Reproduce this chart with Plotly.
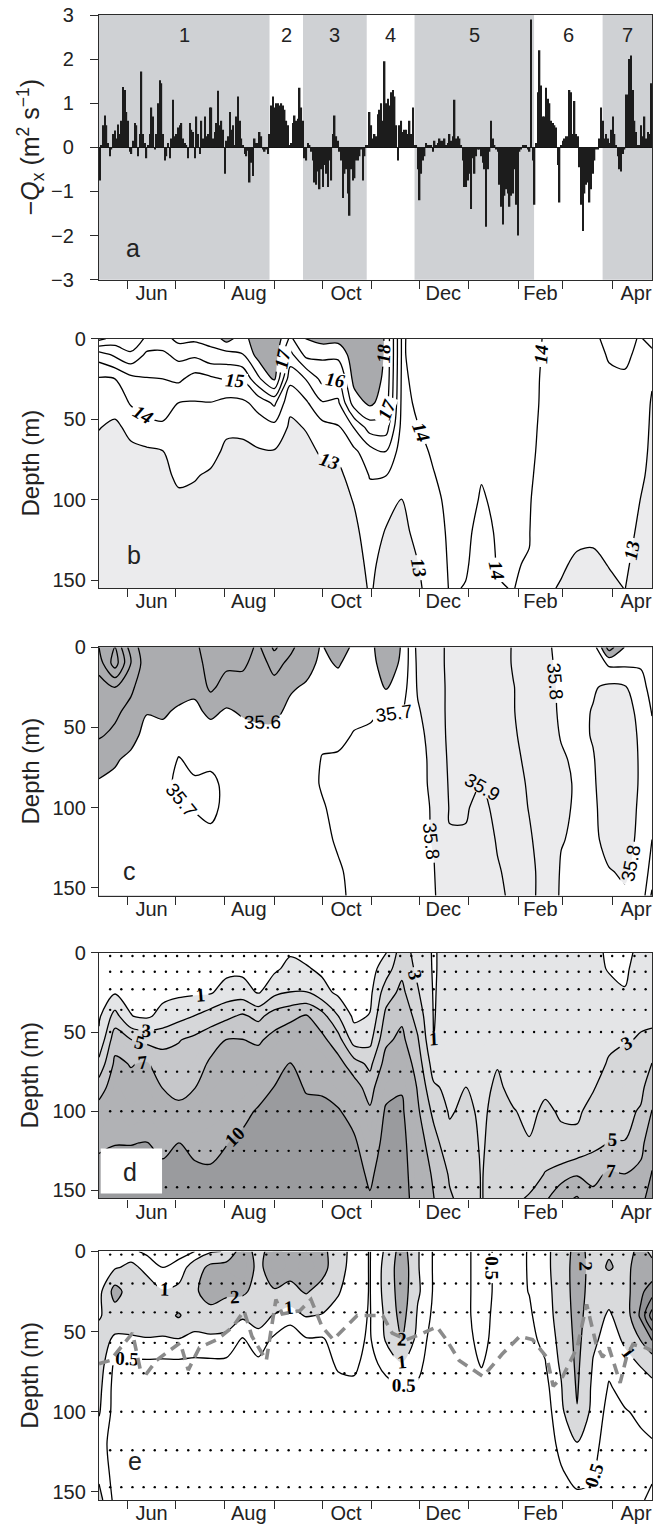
import numpy as np
import pandas as pd
import plotly.graph_objects as go

SANS = "Liberation Sans, Arial, sans-serif"
SERIF = "Liberation Serif, Times New Roman, serif"
AXC = "#2b2b2b"

# ---------------- panel a : daily -Qx (m2 s-1) ----------------
qx_first, qx_last = "2006-05-14 12:00", "2007-04-25 12:00"
qx = [
    -0.75, 0.05, 0.5, 0.72, 0.5, 0.1, -0.2, -0.05, 0.3, 0.38, 0.2, 0.52, 0.3, 0.6,
    1.37, 1.3, 0.8, 0.6, -0.1, -0.15, 0.15, 0.55, 0.5, -0.2, 0.3, 1.72, 0.3, 0.1,
    -0.25, 0.05, 0.3, 0.9, 0.7, -0.05, 0.3, 1.0, 1.52, 1.45, 0.3, -0.3, -0.2, 0.1,
    -0.25, 0.2, 1.08, 0.25, 0.3, 0.45, 0.5, 0.55, 0.2, 0.1, 0.05, -0.25, 0.55, 0.4,
    0.35, -0.25, 0.7, 0.3, -0.15, 0.6, 0.2, 0.7, 0.25, 0.3, 0.9, 0.9, 0.2, 0.35,
    0.55, 1.28, 0.5, 0.6, 0.4, -0.6, 0.15, 0.25, 0.8, 0.4, 0.5, 0.05, 0.7, 1.15,
    0.6, 0.2, 0.05, -0.15, -0.2, -0.08, -0.8, -0.35, -0.65, 0.2, 0.1, 0.1, 0.35, 0.25,
    -0.05, -0.1, -0.05, -0.15, 0.3, 0.95, 1.15, 0.9, 1.0, 1.0, 0.95, 1.0, 0.95, 0.85,
    0.6, 0.5, 0.05, 0.1, 0.55, 0.72, 0.6, 0.65, 1.35, 0.9, 0.6, -0.25, -0.3, 0.1,
    0.05, -0.1, -0.3, -0.8, -0.85, -0.55,
    -0.95, -0.5, -0.9, -0.4, -0.6, -0.9, -0.3, -0.75, 0.3, 0.72, 0.25, 0.15, -0.1, -0.3,
    -1.15, -0.6, -0.5, -1.05, -1.55, -0.5, -0.75, -0.7, -0.3, -0.3, -0.2, -0.05, -0.75, -0.2,
    0.05, 0.05, 0.8, 0.5, 0.2, 0.3, 0.25, 0.75, 0.85, 1.0, 0.6, 1.95, 1.0, 1.1,
    0.95, 1.25, 1.3, 1.15, 0.5, -0.3, 0.5, 0.6, 0.35, 0.4, 0.4, 0.3, 0.6, 0.3,
    0.9, 0.05, 0.05, -0.5, -1.2, -0.6, -0.3, -0.2, 0.1, 0.05, 0.05, 0.05, -0.1, 0.15,
    0.05, 0.1, 0.2, 0.15, 0.15, 0.2, 0.05, 0.1, 0.3, 0.15, 0.25, 1.08, 0.2, 0.25,
    0.2, 0.05, -0.3, -0.9, -0.9, -0.75, -0.6, -1.4, -0.25, -0.6, -0.2, -0.05, -0.05, -0.2,
    -0.35, -0.5, -1.8, -0.5, -0.1, 0.6, 0.2, 0.05, -0.05, -0.1, -0.85, -1.35, -1.75, -1.1,
    -0.95, -1.05, -1.35, -1.1, -1.05, -0.5, -1.3, -2.0, -0.1, -0.05, 0.05, 0.05, 0.05, -0.05,
    -0.1, 2.9, -0.3, -1.3, 0.1, 1.25, 2.2, 1.4, 0.7, 0.7, 1.35, 1.1, 1.0, 0.6,
    0.55, 0.5, 0.45, -0.4, -1.25, 0.05, 0.15, 0.2, 0.25, 0.25, 1.3, 1.25, 0.3, 1.05,
    0.3, 0.25, -0.45, -1.3, -1.9, -1.05, -0.85, -0.8, -1.25, -0.95, -0.6, -0.3, -0.05, -0.05,
    0.2, 0.9, 0.6, 0.2, 0.3, 0.2, 0.1, 0.4, 0.7, 0.3, 0.05, -0.2, -0.5, -0.55,
    -0.15, -0.05, 1.2, 1.2, 2.0, 2.08, 1.3, 0.6, 0.35, 0.05, 0.05, 0.5, 0.25, 0.7,
    0.2, 0.35, 0.3, 1.45,
]

# wind periods: (label, start, end, shaded)
periods = [
    ("1", "2006-05-14", "2006-08-29", True),
    ("2", "2006-08-29", "2006-09-19", False),
    ("3", "2006-09-19", "2006-10-29", True),
    ("4", "2006-10-29", "2006-11-28", False),
    ("5", "2006-11-28", "2007-02-11", True),
    ("6", "2007-02-11", "2007-03-26", False),
    ("7", "2007-03-26", "2007-04-26", True),
]

# ---------------- section grids (time nodes x depth) ----------------
node_dates = [
    "2006-05-14", "2006-05-24", "2006-06-03", "2006-06-13", "2006-06-23", "2006-07-03",
    "2006-07-13", "2006-07-23", "2006-08-02", "2006-08-12", "2006-08-22", "2006-09-01",
    "2006-09-11", "2006-09-21", "2006-10-01", "2006-10-11", "2006-10-21", "2006-10-31",
    "2006-11-10", "2006-11-20", "2006-11-30", "2006-12-10", "2006-12-20", "2006-12-30",
    "2007-01-09", "2007-01-19", "2007-01-29", "2007-02-08", "2007-02-18", "2007-02-28",
    "2007-03-10", "2007-03-20", "2007-03-30", "2007-04-09", "2007-04-19", "2007-04-26",
]
depths = [0, 10, 25, 40, 55, 70, 85, 100, 120, 140, 155]

# temperature (deg C), one profile per time node
temperature = [
    [18.3, 15.5, 13.9, 13.5, 13.03, 12.8, 12.7, 12.6, 12.5, 12.5, 12.5],
    [17.6, 16.2, 14.0, 13.3, 12.85, 12.7, 12.6, 12.55, 12.5, 12.5, 12.5],
    [17.8, 16.8, 14.7, 14.1, 13.2, 12.85, 12.7, 12.6, 12.5, 12.5, 12.5],
    [16.8, 15.8, 14.95, 14.4, 13.7, 12.85, 12.7, 12.6, 12.5, 12.5, 12.5],
    [16.6, 15.8, 15.0, 14.45, 13.85, 12.98, 12.8, 12.65, 12.5, 12.5, 12.5],
    [17.3, 16.3, 15.2, 13.98, 13.7, 13.45, 13.15, 12.85, 12.7, 12.6, 12.5],
    [17.2, 16.2, 14.6, 13.95, 13.65, 13.35, 13.05, 12.85, 12.7, 12.6, 12.5],
    [17.3, 16.7, 14.8, 13.97, 13.6, 13.25, 12.9, 12.75, 12.6, 12.55, 12.5],
    [18.4, 16.6, 15.1, 13.7, 13.15, 12.85, 12.7, 12.6, 12.5, 12.5, 12.5],
    [17.5, 16.95, 15.1, 13.8, 13.15, 12.85, 12.7, 12.6, 12.5, 12.5, 12.5],
    [18.8, 18.4, 16.8, 14.3, 13.6, 12.9, 12.7, 12.6, 12.5, 12.5, 12.5],
    [18.9, 18.6, 18.2, 15.2, 13.7, 12.95, 12.75, 12.6, 12.5, 12.5, 12.5],
    [16.8, 15.7, 14.3, 13.2, 12.85, 12.7, 12.6, 12.55, 12.5, 12.5, 12.5],
    [18.05, 17.3, 15.05, 13.85, 13.05, 12.8, 12.7, 12.6, 12.5, 12.5, 12.5],
    [18.4, 17.2, 16.3, 14.9, 13.65, 13.1, 12.8, 12.65, 12.55, 12.5, 12.5],
    [18.3, 17.3, 15.9, 14.8, 13.9, 13.2, 12.8, 12.65, 12.55, 12.5, 12.5],
    [18.6, 18.5, 18.3, 17.5, 15.05, 13.8, 13.35, 13.05, 12.8, 12.65, 12.5],
    [18.7, 18.6, 18.5, 18.2, 16.5, 14.6, 14.05, 13.7, 13.4, 13.2, 13.1],
    [17.9, 17.9, 17.8, 17.5, 16.5, 15.0, 14.02, 13.3, 12.95, 12.7, 12.6],
    [13.9, 13.9, 13.85, 13.8, 13.7, 13.5, 13.25, 12.98, 12.8, 12.7, 12.6],
    [14.3, 14.3, 14.2, 14.1, 13.98, 13.8, 13.6, 13.4, 13.2, 12.98, 12.85],
    [14.4, 14.4, 14.35, 14.3, 14.2, 14.1, 13.97, 13.8, 13.6, 13.45, 13.4],
    [14.5, 14.5, 14.45, 14.4, 14.35, 14.3, 14.25, 14.2, 14.15, 14.1, 14.05],
    [14.5, 14.5, 14.45, 14.4, 14.35, 14.3, 14.25, 14.2, 14.1, 14.05, 13.98],
    [14.4, 14.4, 14.35, 14.3, 14.25, 14.15, 14.03, 13.95, 13.85, 13.8, 13.75],
    [14.4, 14.4, 14.35, 14.3, 14.25, 14.2, 14.15, 14.1, 14.05, 14.02, 13.98],
    [14.3, 14.3, 14.28, 14.25, 14.2, 14.15, 14.1, 14.07, 14.04, 14.02, 14.01],
    [14.2, 14.2, 14.18, 14.15, 14.12, 14.1, 14.07, 14.04, 14.02, 13.98, 13.9],
    [13.95, 13.93, 13.9, 13.9, 13.88, 13.85, 13.8, 13.7, 13.5, 13.25, 13.1],
    [13.9, 13.88, 13.85, 13.8, 13.75, 13.7, 13.6, 13.45, 13.25, 13.08, 12.95],
    [13.9, 13.85, 13.8, 13.75, 13.7, 13.6, 13.5, 13.35, 13.15, 12.9, 12.8],
    [13.85, 13.8, 13.75, 13.7, 13.6, 13.5, 13.4, 13.3, 13.1, 12.9, 12.8],
    [14.2, 14.05, 13.9, 13.8, 13.7, 13.6, 13.5, 13.4, 13.2, 13.02, 12.9],
    [14.3, 14.15, 13.9, 13.8, 13.7, 13.6, 13.5, 13.4, 13.25, 13.1, 13.01],
    [13.9, 13.8, 13.7, 13.55, 13.4, 13.3, 13.15, 12.98, 12.85, 12.75, 12.7],
    [14.6, 13.6, 13.1, 12.9, 12.85, 12.8, 12.75, 12.7, 12.65, 12.6, 12.6],
]

# salinity
salinity = [
    [35.3, 35.35, 35.45, 35.47, 35.49, 35.56, 35.61, 35.63, 35.65, 35.66, 35.66],
    [35.2, 35.15, 35.4, 35.48, 35.52, 35.59, 35.62, 35.64, 35.65, 35.66, 35.66],
    [35.45, 35.4, 35.48, 35.53, 35.57, 35.62, 35.64, 35.65, 35.66, 35.66, 35.67],
    [35.56, 35.56, 35.57, 35.595, 35.63, 35.65, 35.66, 35.66, 35.67, 35.67, 35.67],
    [35.56, 35.56, 35.57, 35.59, 35.62, 35.65, 35.67, 35.67, 35.67, 35.67, 35.67],
    [35.56, 35.56, 35.57, 35.61, 35.66, 35.705, 35.72, 35.69, 35.66, 35.65, 35.65],
    [35.52, 35.54, 35.58, 35.62, 35.65, 35.68, 35.71, 35.705, 35.67, 35.65, 35.65],
    [35.45, 35.46, 35.48, 35.58, 35.64, 35.68, 35.72, 35.72, 35.68, 35.66, 35.65],
    [35.45, 35.48, 35.54, 35.61, 35.64, 35.67, 35.68, 35.68, 35.67, 35.66, 35.65],
    [35.45, 35.48, 35.54, 35.59, 35.63, 35.65, 35.66, 35.66, 35.66, 35.66, 35.66],
    [35.52, 35.54, 35.56, 35.58, 35.62, 35.64, 35.65, 35.66, 35.66, 35.66, 35.66],
    [35.38, 35.47, 35.53, 35.58, 35.62, 35.64, 35.65, 35.66, 35.66, 35.66, 35.66],
    [35.48, 35.52, 35.59, 35.62, 35.64, 35.65, 35.66, 35.66, 35.66, 35.66, 35.66],
    [35.55, 35.57, 35.61, 35.63, 35.64, 35.65, 35.66, 35.66, 35.66, 35.66, 35.66],
    [35.61, 35.62, 35.63, 35.65, 35.68, 35.705, 35.71, 35.69, 35.68, 35.67, 35.67],
    [35.52, 35.59, 35.64, 35.66, 35.68, 35.71, 35.73, 35.73, 35.71, 35.69, 35.68],
    [35.63, 35.64, 35.66, 35.68, 35.705, 35.72, 35.74, 35.74, 35.73, 35.72, 35.72],
    [35.64, 35.65, 35.67, 35.69, 35.71, 35.73, 35.75, 35.75, 35.75, 35.74, 35.74],
    [35.5, 35.53, 35.59, 35.705, 35.72, 35.74, 35.76, 35.76, 35.77, 35.77, 35.77],
    [35.61, 35.62, 35.65, 35.69, 35.72, 35.74, 35.76, 35.77, 35.78, 35.78, 35.78],
    [35.83, 35.82, 35.81, 35.79, 35.77, 35.76, 35.77, 35.77, 35.78, 35.78, 35.78],
    [35.86, 35.86, 35.85, 35.85, 35.84, 35.83, 35.82, 35.81, 35.805, 35.795, 35.79],
    [35.92, 35.92, 35.92, 35.92, 35.92, 35.915, 35.91, 35.905, 35.895, 35.88, 35.87],
    [35.93, 35.93, 35.93, 35.93, 35.925, 35.92, 35.915, 35.905, 35.895, 35.88, 35.87],
    [35.93, 35.93, 35.93, 35.93, 35.92, 35.91, 35.898, 35.885, 35.87, 35.86, 35.86],
    [35.93, 35.93, 35.93, 35.93, 35.93, 35.925, 35.92, 35.915, 35.905, 35.895, 35.89],
    [35.895, 35.895, 35.902, 35.902, 35.905, 35.91, 35.915, 35.92, 35.92, 35.915, 35.91],
    [35.87, 35.87, 35.875, 35.88, 35.885, 35.89, 35.895, 35.898, 35.905, 35.91, 35.91],
    [35.82, 35.83, 35.84, 35.84, 35.84, 35.85, 35.86, 35.87, 35.88, 35.885, 35.885],
    [35.77, 35.77, 35.78, 35.785, 35.795, 35.81, 35.82, 35.815, 35.805, 35.79, 35.785],
    [35.76, 35.76, 35.77, 35.775, 35.78, 35.785, 35.79, 35.79, 35.785, 35.78, 35.775],
    [35.76, 35.78, 35.79, 35.805, 35.805, 35.795, 35.79, 35.785, 35.78, 35.775, 35.77],
    [35.45, 35.68, 35.82, 35.84, 35.845, 35.845, 35.845, 35.84, 35.83, 35.795, 35.78],
    [35.605, 35.68, 35.81, 35.84, 35.845, 35.845, 35.845, 35.84, 35.83, 35.81, 35.79],
    [35.66, 35.69, 35.73, 35.77, 35.785, 35.79, 35.79, 35.785, 35.78, 35.775, 35.77],
    [35.62, 35.64, 35.67, 35.695, 35.72, 35.73, 35.73, 35.72, 35.7, 35.66, 35.58],
]

# nitrate (uM)
nitrate = [
    [0.2, 0.25, 0.4, 0.7, 1.4, 3.6, 6.0, 7.9, 9.6, 10.8, 11.3],
    [0.2, 0.35, 0.8, 3.75, 6.2, 7.4, 8.2, 8.9, 9.95, 10.6, 11.0],
    [0.15, 0.3, 0.6, 1.05, 5.05, 6.9, 7.5, 8.2, 9.95, 10.6, 11.0],
    [0.1, 0.2, 0.4, 0.7, 4.5, 7.2, 7.9, 8.8, 10.05, 10.7, 11.0],
    [0.1, 0.2, 0.5, 1.6, 4.4, 5.9, 6.95, 7.9, 9.5, 10.5, 11.0],
    [0.1, 0.2, 0.6, 2.4, 4.9, 5.7, 6.4, 7.5, 10.05, 10.6, 11.0],
    [0.1, 0.2, 0.7, 3.05, 5.5, 6.1, 6.95, 8.0, 9.5, 10.4, 10.9],
    [0.1, 0.25, 0.8, 4.0, 6.2, 7.3, 7.9, 8.6, 9.4, 10.3, 10.8],
    [0.15, 0.4, 1.9, 4.6, 7.05, 7.7, 8.3, 8.9, 9.95, 10.5, 10.9],
    [0.15, 0.45, 2.0, 5.3, 7.05, 7.8, 8.6, 9.5, 10.4, 10.9, 11.2],
    [0.15, 0.3, 0.8, 4.5, 6.7, 8.0, 9.2, 10.2, 10.8, 11.2, 11.4],
    [0.2, 0.6, 2.5, 5.9, 7.7, 8.9, 10.05, 10.8, 11.3, 11.5, 11.6],
    [0.8, 1.6, 3.05, 6.5, 8.4, 10.05, 10.8, 11.2, 11.5, 11.6, 11.7],
    [0.4, 1.2, 3.1, 7.2, 7.9, 8.7, 9.8, 10.6, 11.2, 11.5, 11.6],
    [0.3, 0.6, 1.7, 5.8, 7.5, 8.4, 9.6, 10.7, 11.3, 11.5, 11.6],
    [0.2, 0.3, 0.6, 3.05, 5.9, 7.7, 8.9, 10.2, 11.0, 11.3, 11.5],
    [0.1, 0.15, 0.3, 0.6, 2.05, 5.9, 7.9, 9.1, 10.4, 10.9, 11.2],
    [0.1, 0.2, 0.5, 1.1, 2.4, 4.5, 6.1, 7.3, 8.4, 9.6, 10.2],
    [0.9, 2.0, 4.05, 5.5, 6.6, 7.8, 9.2, 10.3, 10.9, 11.2, 11.3],
    [4.05, 4.5, 5.5, 6.6, 7.5, 8.6, 9.8, 10.4, 10.8, 11.0, 11.1],
    [2.2, 2.5, 3.2, 4.2, 5.2, 6.05, 6.8, 7.3, 8.05, 8.5, 8.8],
    [0.8, 0.8, 0.85, 0.9, 0.98, 2.05, 3.3, 4.5, 5.8, 6.7, 7.05],
    [1.8, 1.8, 1.85, 1.9, 2.0, 2.2, 2.5, 2.8, 3.6, 4.8, 5.2],
    [1.6, 1.6, 1.65, 1.7, 1.8, 2.1, 3.05, 3.4, 3.8, 4.2, 4.4],
    [1.6, 1.6, 1.6, 1.7, 1.9, 2.2, 2.5, 2.7, 2.8, 2.9, 2.9],
    [1.7, 1.7, 1.75, 1.8, 2.2, 2.9, 3.3, 3.5, 3.7, 3.9, 4.0],
    [1.7, 1.7, 1.75, 1.8, 1.9, 2.1, 2.5, 3.1, 3.6, 4.2, 4.6],
    [1.6, 1.6, 1.65, 1.7, 1.8, 2.0, 2.3, 2.6, 3.1, 4.2, 5.2],
    [1.5, 1.5, 1.55, 1.6, 1.8, 2.2, 2.7, 3.3, 4.05, 5.1, 6.5],
    [1.5, 1.5, 1.55, 1.6, 1.8, 2.1, 2.4, 2.8, 3.4, 5.8, 9.0],
    [1.5, 1.55, 1.6, 1.7, 1.9, 2.2, 2.5, 2.8, 3.3, 6.8, 10.3],
    [1.7, 1.8, 1.9, 2.05, 2.3, 2.6, 2.9, 3.4, 4.4, 6.5, 7.5],
    [0.6, 0.8, 1.8, 2.4, 2.8, 3.1, 3.6, 4.3, 5.1, 7.3, 8.0],
    [0.5, 0.7, 1.1, 2.2, 2.9, 3.5, 4.05, 4.5, 5.05, 7.05, 8.05],
    [1.5, 1.8, 2.3, 2.8, 3.1, 3.8, 4.5, 5.2, 6.3, 7.6, 9.5],
    [1.8, 2.0, 2.4, 2.8, 3.2, 5.05, 6.2, 7.05, 8.7, 10.2, 10.8],
]

# chlorophyll (mg m-3)
chlorophyll = [
    [0.6, 0.8, 0.7, 0.9, 1.4, 1.3, 1.15, 1.05, 0.7, 0.9, 1.2],
    [0.5, 0.9, 2.4, 1.5, 0.85, 0.4, 0.3, 0.3, 0.3, 0.3, 0.35],
    [0.6, 1.2, 1.5, 1.4, 0.9, 0.4, 0.3, 0.3, 0.3, 0.3, 0.3],
    [0.4, 0.8, 1.4, 1.5, 0.95, 0.4, 0.3, 0.3, 0.3, 0.3, 0.3],
    [0.3, 0.5, 1.05, 1.6, 0.9, 0.4, 0.3, 0.3, 0.3, 0.3, 0.3],
    [0.4, 0.6, 1.2, 2.1, 0.95, 0.4, 0.3, 0.3, 0.3, 0.3, 0.3],
    [0.5, 1.4, 1.8, 1.4, 0.8, 0.4, 0.3, 0.3, 0.3, 0.3, 0.3],
    [0.9, 2.3, 2.6, 1.5, 0.85, 0.4, 0.3, 0.3, 0.3, 0.3, 0.3],
    [1.05, 2.5, 2.2, 1.4, 0.8, 0.4, 0.3, 0.3, 0.3, 0.3, 0.3],
    [2.6, 2.8, 2.2, 1.1, 0.45, 0.3, 0.3, 0.3, 0.3, 0.3, 0.3],
    [1.6, 1.7, 1.6, 1.3, 0.75, 0.4, 0.3, 0.3, 0.3, 0.3, 0.3],
    [2.6, 2.7, 1.9, 0.95, 0.4, 0.3, 0.3, 0.3, 0.3, 0.3, 0.3],
    [2.4, 2.4, 1.7, 0.6, 0.35, 0.3, 0.3, 0.3, 0.3, 0.3, 0.3],
    [2.5, 2.6, 2.1, 1.05, 0.45, 0.3, 0.3, 0.3, 0.3, 0.3, 0.3],
    [2.3, 2.4, 1.6, 0.95, 0.45, 0.35, 0.3, 0.3, 0.3, 0.3, 0.3],
    [1.4, 1.3, 1.05, 0.8, 0.7, 0.55, 0.4, 0.3, 0.3, 0.3, 0.3],
    [0.7, 0.7, 0.7, 0.65, 0.6, 0.55, 0.45, 0.35, 0.3, 0.3, 0.3],
    [0.48, 0.48, 0.48, 0.47, 0.45, 0.4, 0.35, 0.3, 0.3, 0.3, 0.3],
    [1.1, 1.2, 1.2, 1.1, 1.05, 0.6, 0.4, 0.3, 0.3, 0.3, 0.3],
    [2.5, 2.7, 2.6, 2.4, 2.05, 0.95, 0.48, 0.35, 0.3, 0.3, 0.3],
    [1.05, 1.05, 1.1, 0.9, 0.7, 0.6, 0.45, 0.3, 0.3, 0.3, 0.3],
    [0.45, 0.45, 0.45, 0.4, 0.35, 0.3, 0.3, 0.3, 0.3, 0.3, 0.3],
    [0.4, 0.4, 0.4, 0.4, 0.35, 0.3, 0.3, 0.3, 0.3, 0.3, 0.3],
    [0.45, 0.45, 0.45, 0.45, 0.42, 0.38, 0.3, 0.3, 0.3, 0.3, 0.3],
    [0.6, 0.6, 0.6, 0.6, 0.58, 0.52, 0.4, 0.3, 0.3, 0.3, 0.3],
    [0.45, 0.45, 0.45, 0.42, 0.4, 0.35, 0.3, 0.3, 0.3, 0.3, 0.3],
    [0.4, 0.4, 0.4, 0.4, 0.38, 0.35, 0.3, 0.3, 0.3, 0.3, 0.3],
    [0.52, 0.52, 0.51, 0.45, 0.4, 0.35, 0.3, 0.3, 0.3, 0.3, 0.3],
    [0.8, 0.8, 0.75, 0.7, 0.6, 0.48, 0.35, 0.3, 0.3, 0.3, 0.3],
    [1.4, 1.4, 1.35, 1.3, 1.2, 1.1, 0.95, 0.8, 0.6, 0.45, 0.4],
    [2.4, 2.5, 2.5, 2.4, 2.3, 2.2, 2.1, 1.95, 0.95, 0.6, 0.42],
    [1.6, 1.6, 1.5, 1.35, 1.15, 0.95, 0.8, 0.7, 0.6, 0.52, 0.45],
    [1.9, 2.1, 1.3, 0.9, 0.7, 0.58, 0.47, 0.4, 0.35, 0.3, 0.3],
    [1.6, 1.7, 1.6, 1.4, 1.1, 0.8, 0.6, 0.48, 0.45, 0.4, 0.4],
    [2.3, 2.5, 2.8, 3.2, 2.05, 1.05, 0.7, 0.55, 0.45, 0.4, 0.45],
    [1.8, 2.3, 3.5, 5.5, 3.05, 1.3, 0.8, 0.6, 0.48, 0.45, 0.6],
]

# mixed layer depth (m)
mld_dates = [
    "2006-05-14", "2006-05-21", "2006-06-04", "2006-06-09", "2006-06-13", "2006-06-19",
    "2006-06-27", "2006-07-04", "2006-07-09", "2006-07-16", "2006-07-27", "2006-08-06",
    "2006-08-13", "2006-08-18", "2006-08-27", "2006-09-02", "2006-09-06", "2006-09-17",
    "2006-09-24", "2006-10-01", "2006-10-08", "2006-10-16", "2006-10-23", "2006-11-08",
    "2006-11-14", "2006-11-23", "2006-12-01", "2006-12-12", "2006-12-18", "2006-12-26",
    "2007-01-10", "2007-01-22", "2007-02-02", "2007-02-10", "2007-02-19", "2007-02-23",
    "2007-03-01", "2007-03-10", "2007-03-16", "2007-03-22", "2007-03-26", "2007-03-30",
    "2007-04-06", "2007-04-10", "2007-04-14", "2007-04-22", "2007-04-26",
]
mld = [
    70, 68, 51, 74, 76, 68, 62, 57, 74, 60, 55, 47, 37, 53, 68, 30, 39, 37, 30, 47,
    55, 47, 40, 40, 51, 55, 52, 47, 55, 68, 78, 64, 53, 55, 66, 84, 78, 60, 33, 58,
    66, 60, 82, 66, 58, 60, 62,
]

# bottle sampling (weekly casts) and depths
cast_dates = pd.date_range("2006-05-21", "2007-04-22", freq="7D")
cast_depths_nut = [2, 12, 23, 36, 50, 75, 100, 125, 148]
cast_depths_chl = [2, 20, 38, 57, 76, 100, 124, 147]

# ---------------- figure ----------------
XR = ["2006-05-14", "2007-04-26"]
label_dates = ["2006-06-16", "2006-08-16", "2006-10-16", "2006-12-16", "2007-02-15", "2007-04-16"]
label_text = ["Jun", "Aug", "Oct", "Dec", "Feb", "Apr"]

domains = [[0.8218, 1.0], [0.6140, 0.7821], [0.4069, 0.5743], [0.2031, 0.3685], [0.0, 0.1674]]

fig = go.Figure()

# panel a bars
bar_t = pd.date_range(qx_first, qx_last, periods=len(qx))
fig.add_trace(go.Bar(x=bar_t, y=qx, marker=dict(color="#1c1c1c", line=dict(width=0)),
                     xaxis="x", yaxis="y", hoverinfo="skip", showlegend=False))

Z = lambda prof: np.array(prof).T


def step_scale(stops):
    """stops: list of (fraction, colour) giving piecewise-constant bands"""
    cs = []
    for i, (f, c) in enumerate(stops):
        f_next = stops[i + 1][0] if i + 1 < len(stops) else 1.0
        cs.append([f, c])
        cs.append([f_next, c])
    return cs


WHITE = "#ffffff"
# panel b : temperature
fig.add_trace(go.Contour(
    x=node_dates, y=depths, z=Z(temperature), xaxis="x2", yaxis="y2",
    contours=dict(start=13, end=18, size=1, coloring="fill", showlabels=True,
                  labelfont=dict(family=SERIF, size=19, color="black", weight="bold", style="italic")),
    colorscale=step_scale([(0, "#ebebed"), (1 / 12, WHITE), (11 / 12, "#a9aaad")]),
    line=dict(color="black", width=1.3, smoothing=0.9),
    showscale=False, hoverinfo="skip"))

# panel c : salinity
fig.add_trace(go.Contour(
    x=node_dates, y=depths, z=Z(salinity), xaxis="x3", yaxis="y3",
    contours=dict(start=35.1, end=35.9, size=0.1, coloring="fill", showlabels=True,
                  labelformat=".1f",
                  labelfont=dict(family=SANS, size=19, color="black")),
    colorscale=step_scale([(0, "#abacaf"), (5.5 / 9, WHITE), (7.5 / 9, "#ebebed")]),
    line=dict(color="black", width=1.3, smoothing=0.9),
    showscale=False, hoverinfo="skip"))

# panel d : nitrate, filled bands then labelled isolines
fig.add_trace(go.Contour(
    x=node_dates, y=depths, z=Z(nitrate), xaxis="x4", yaxis="y4",
    contours=dict(start=1, end=10, size=1, coloring="fill", showlines=False),
    colorscale=step_scale([(0, WHITE), (0.05, "#e4e5e7"), (0.25, "#d6d7d9"),
                           (0.45, "#c6c7ca"), (0.65, "#b1b2b5"), (0.95, "#9a9b9e")]),
    line=dict(width=0, smoothing=0.9), showscale=False, hoverinfo="skip"))
for lev in [1, 3, 5, 7, 10]:
    fig.add_trace(go.Contour(
        x=node_dates, y=depths, z=Z(nitrate), xaxis="x4", yaxis="y4",
        contours=dict(start=lev, end=lev, size=1, coloring="none", showlabels=True,
                      labelformat=".2~g",
                      labelfont=dict(family=SERIF, size=19, color="black", weight="bold")),
        line=dict(color="black", width=1.3, smoothing=0.9),
        showscale=False, hoverinfo="skip"))

# panel e : chlorophyll
fig.add_trace(go.Contour(
    x=node_dates, y=depths, z=Z(chlorophyll), xaxis="x5", yaxis="y5",
    contours=dict(start=0.5, end=5, size=0.5, coloring="fill", showlines=False),
    colorscale=step_scale([(0, WHITE), (0.15, "#d9dadc"), (0.35, "#a9aaad"), (0.55, "#909194")]),
    line=dict(width=0, smoothing=0.9), showscale=False, hoverinfo="skip"))
for lev in [0.5, 1, 2, 3, 4, 5]:
    fig.add_trace(go.Contour(
        x=node_dates, y=depths, z=Z(chlorophyll), xaxis="x5", yaxis="y5",
        contours=dict(start=lev, end=lev, size=1, coloring="none", showlabels=lev <= 2,
                      labelformat=".2~g",
                      labelfont=dict(family=SERIF, size=19, color="black", weight="bold")),
        line=dict(color="black", width=1.3, smoothing=0.9),
        showscale=False, hoverinfo="skip"))

# sampling dots
for ax, dlist in (("4", cast_depths_nut), ("5", cast_depths_chl)):
    tt, dd = np.meshgrid(cast_dates, dlist)
    fig.add_trace(go.Scatter(x=tt.ravel(), y=dd.ravel(), mode="markers",
                             marker=dict(color="black", size=2.4),
                             xaxis="x" + ax, yaxis="y" + ax, hoverinfo="skip", showlegend=False))

# mixed layer depth
fig.add_trace(go.Scatter(x=mld_dates, y=mld, mode="lines",
                         line=dict(color="#8b8b8b", width=3.6, dash="11px,7px"),
                         xaxis="x5", yaxis="y5", hoverinfo="skip", showlegend=False))

# ---------------- axes ----------------
layout = dict(
    width=657, height=1530, margin=dict(l=99, r=4, t=13, b=30),
    paper_bgcolor="white", plot_bgcolor="white", showlegend=False,
    bargap=0.12, font=dict(family=SANS, size=20, color="#222"),
)
for i in range(5):
    sx = "" if i == 0 else str(i + 1)
    layout["xaxis" + sx] = dict(
        type="date", range=XR, domain=[0, 1], anchor="y" + sx,
        showline=True, linecolor=AXC, linewidth=1.3, mirror=True,
        tickmode="array", tickvals=label_dates, ticktext=label_text, ticks="",
        ticklabelstandoff=-5,
        tickfont=dict(family=SANS, size=20, color="#222"),
        minor=dict(ticks="outside", ticklen=8, tickwidth=1.3, tickcolor=AXC,
                   dtick="M1", tick0="2006-05-01", showgrid=False),
        showgrid=False, zeroline=False,
    )
    if i == 0:
        layout["yaxis"] = dict(
            domain=domains[0], anchor="x", range=[-3, 3], dtick=1, tick0=0,
            showline=True, linecolor=AXC, linewidth=1.3, mirror=True,
            ticks="outside", ticklen=8, tickwidth=1.3, tickcolor=AXC,
            ticklabelstandoff=12, tickfont=dict(family=SANS, size=20, color="#222"),
            showgrid=False, zeroline=True, zerolinecolor="#111", zerolinewidth=1.2,
        )
    else:
        layout["yaxis" + sx] = dict(
            domain=domains[i], anchor="x" + sx, range=[155, 0],
            tickmode="array", tickvals=[0, 50, 100, 150],
            showline=True, linecolor=AXC, linewidth=1.3, mirror=True,
            ticks="outside", ticklen=7, tickwidth=1.3, tickcolor=AXC,
            ticklabelstandoff=1, tickfont=dict(family=SANS, size=20, color="#222"),
            showgrid=False, zeroline=False,
        )

shapes = []
annotations = []
for lab, t0, t1, shaded in periods:
    if shaded:
        shapes.append(dict(type="rect", xref="x", yref="y domain", x0=t0, x1=t1, y0=0, y1=1,
                           fillcolor="#cfd1d4", line=dict(width=0), layer="below"))
    mid = pd.Timestamp(t0) + (pd.Timestamp(t1) - pd.Timestamp(t0)) / 2
    annotations.append(dict(x=mid, y=2.55, xref="x", yref="y", text=lab, showarrow=False,
                            font=dict(family=SANS, size=20, color="#222")))

# white box behind panel letter d
shapes.append(dict(type="rect", xref="x4 domain", yref="y4 domain", x0=0.003, x1=0.114,
                   y0=0.02, y1=0.203, fillcolor="white", line=dict(width=0), layer="above"))

letters = [("a", "", 0.061, 0.12), ("b", "2", 0.063, 0.132), ("c", "3", 0.055, 0.10),
           ("d", "4", 0.056, 0.106), ("e", "5", 0.065, 0.157)]
for txt, sx, fx, fy in letters:
    annotations.append(dict(x=fx, y=fy, xref=f"x{sx} domain", yref=f"y{sx} domain", text=txt,
                            xanchor="center", yanchor="middle",
                            showarrow=False, font=dict(family=SANS, size=25, color="#222")))

# y-axis titles
annotations.append(dict(x=0, y=0.9109, xref="paper", yref="paper", xshift=-68, textangle=-90,
                        xanchor="center", yanchor="middle",
                        text="\u2212<i>Q</i><sub>x</sub> (m<sup>2</sup> s<sup>\u22121</sup>)",
                        showarrow=False, font=dict(family=SANS, size=25, color="#222")))
for yc in [0.698, 0.4906, 0.2858, 0.0837]:
    annotations.append(dict(x=0, y=yc, xref="paper", yref="paper", xshift=-69, textangle=-90,
                            xanchor="center", yanchor="middle",
                            text="Depth (m)", showarrow=False,
                            font=dict(family=SANS, size=24, color="#222")))

layout["shapes"] = shapes
layout["annotations"] = annotations
fig.update_layout(**layout)

fig.write_html("out.html")
